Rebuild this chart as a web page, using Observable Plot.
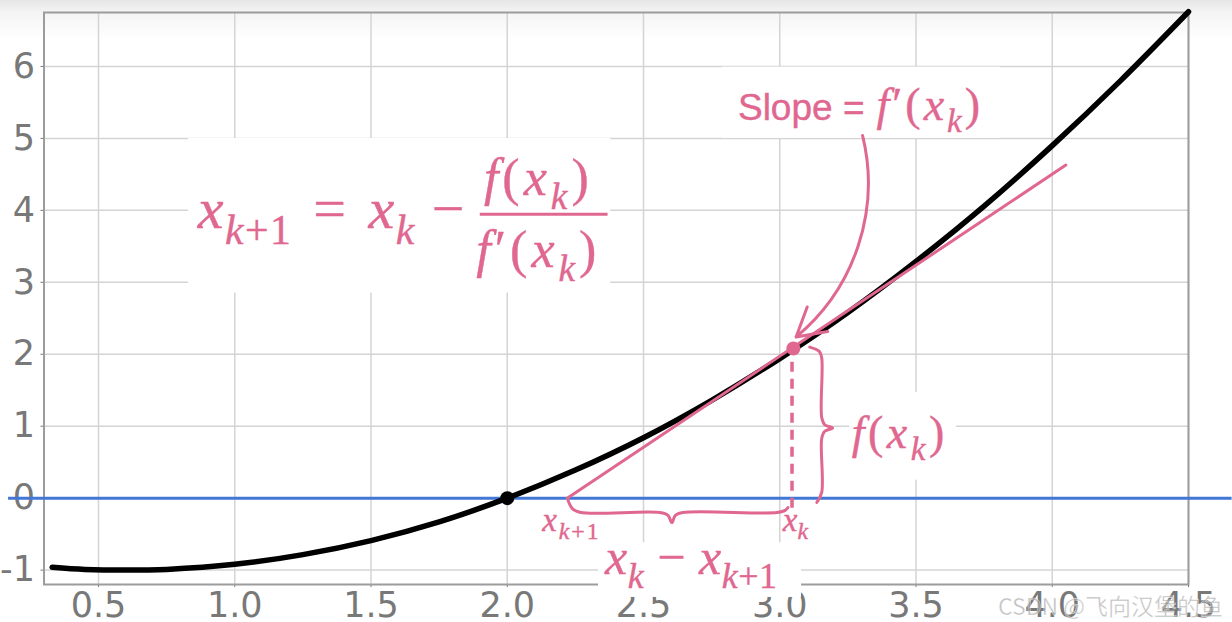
<!DOCTYPE html>
<html>
<head>
<meta charset="utf-8">
<script src="https://cdn.jsdelivr.net/npm/d3@7"></script>
<script src="https://cdn.jsdelivr.net/npm/@observablehq/plot@0.6"></script>
<style>
  html, body { margin: 0; padding: 0; }
  body { width: 1232px; height: 622px; overflow: hidden; position: relative;
         background: linear-gradient(to bottom, #e6e6e6 0px, #f4f4f4 12px, #ffffff 40px); }
  #chart svg { display: block; }
  #wm { position: absolute; left: 998px; top: 588px; font-family: "Noto Sans CJK SC", "Noto Sans", sans-serif;
        font-size: 23px; color: rgba(150,150,150,0.6); white-space: nowrap;
        -webkit-text-stroke: 0.6px rgba(255,255,255,0.7); }
</style>
</head>
<body>
<div id="chart"></div>
<div id="wm">CSDN @飞向汉堡的鱼</div>
<script>
// ---- axes ----
const xTicks = [0.5, 1.0, 1.5, 2.0, 2.5, 3.0, 3.5, 4.0, 4.5];
const xTickLabels = ["0.5", "1.0", "1.5", "2.0", "2.5", "3.0", "3.5", "4.0", "4.5"];
const yTicks = [-1, 0, 1, 2, 3, 4, 5, 6];
const yTickLabels = ["-1", "0", "1", "2", "3", "4", "5", "6"];

// ---- function curve f(x) ----
const curveX = [0.33, 0.45, 0.6, 0.75, 1.0, 1.25, 1.5, 1.75, 2.0, 2.25, 2.5, 2.75, 3.0, 3.25, 3.5, 3.75, 4.0, 4.25, 4.5];
const curveY = [-0.96, -0.99, -1.0, -0.99, -0.92, -0.785, -0.59, -0.33, 0.0, 0.39, 0.84, 1.36, 1.94, 2.58, 3.29, 4.06, 4.90, 5.80, 6.76];

// ---- tangent at x_k ----
const tangentX = [2.22, 4.05];
const tangentY = [0, 4.63];

// ---- zero line ----
const zeroLineX = [0.17, 4.66];
const zeroLineY = [0];

// ---- points ----
const rootX = [2.0], rootY = [0];
const xkX = [3.05], xkY = [2.08];

// ---- dashed drop line ----
const dashX = [3.045];
const dashY = [-0.14, 2.03];

// ---- braces ----
const fBraceX = [3.110, 3.145, 3.154, 3.154, 3.165, 3.194, 3.165, 3.154, 3.154, 3.136];
const fBraceY = [2.10, 2.04, 1.95, 1.12, 1.02, 0.976, 0.93, 0.83, 0.08, -0.06];
const diffBraceX = [2.223, 2.24, 2.27, 2.56, 2.59, 2.604, 2.617, 2.645, 2.99, 3.02, 3.03];
const diffBraceY = [-0.03, -0.15, -0.20, -0.20, -0.24, -0.34, -0.24, -0.20, -0.20, -0.17, -0.13];

// ---- arrow ----
const arrowFrom = [3.304, 5.04];
const arrowTo = [3.06, 2.24];

// ---- fraction bar ----
const fracBarX = [1.901, 2.370];
const fracBarY = [3.945];

// ---- text annotations ----
const labelText = ["$x_{k+1}\u2004=\u2004x_k −", "$f(x_k)", "$f′(x_k)", "Slope =", "$f′(x_k)", "$f(x_k)", "$x_{k+1}", "$x_k", "$x_k − x_{k+1}"];
const labelX = [0.864, 2.114, 2.114, 3.311, 3.355, 3.264, 2.128, 3.011, 2.359];
const labelY = [3.75, 4.21, 3.217, 5.26, 5.26, 0.70, -0.45, -0.45, -1.055];
const labelSize = [58, 52, 52, 37, 46, 46, 33, 33, 50];
const labelSpacing = [1.5, 4, 4, 0, 3, 3.5, 2, 0, 0.5];
const labelAnchor = ["start", "middle", "middle", "end", "start", "start", "start", "start", "start"];

// ---- white backgrounds behind annotations ----
const boxX1 = [0.83, 2.79, 3.257, 2.335];
const boxX2 = [2.38, 3.81, 3.649, 3.08];
const boxY1 = [2.85, 5.0, 0.25, -1.38];
const boxY2 = [5.0, 5.99, 1.47, -0.62];

const pink = "#e0678f";
const blue = "#4277d6";

const curve = curveX.map((x, i) => ({x, y: curveY[i]}));
const tangent = tangentX.map((x, i) => ({x, y: tangentY[i]}));
const fBrace = fBraceX.map((x, i) => ({x, y: fBraceY[i]}));
const diffBrace = diffBraceX.map((x, i) => ({x, y: diffBraceY[i]}));
const boxes = boxX1.map((x1, i) => ({x1, x2: boxX2[i], y1: boxY1[i], y2: boxY2[i]}));
const labels = labelText.map((t, i) => ({t, x: labelX[i], y: labelY[i], size: labelSize[i], ls: labelSpacing[i], anchor: labelAnchor[i]}));

const plot = Plot.plot({
  width: 1232,
  height: 622,
  marginLeft: 43.5,
  marginRight: 44,
  marginTop: 12,
  marginBottom: 38,
  x: {domain: [0.3, 4.5]},
  y: {domain: [-1.2, 6.75]},
  style: {background: "transparent", overflow: "visible"},
  marks: [
    Plot.gridX(xTicks, {stroke: "#d4d4d4", strokeOpacity: 1, strokeWidth: 1.5}),
    Plot.gridY(yTicks, {stroke: "#d4d4d4", strokeOpacity: 1, strokeWidth: 1.5}),
    Plot.axisX(xTicks, {tickFormat: d => xTickLabels[xTicks.indexOf(d)], tickSize: 3, tickPadding: 5, fontSize: 35, fontFamily: "DejaVu Sans", color: "#787878", label: null}),
    Plot.axisY(yTicks, {tickFormat: d => yTickLabels[yTicks.indexOf(d)], tickSize: 3, tickPadding: 6, fontSize: 35, fontFamily: "DejaVu Sans", color: "#787878", label: null}),
    Plot.frame({stroke: "#9c9c9c", strokeWidth: 2}),
    Plot.rect(boxes, {x1: "x1", x2: "x2", y1: "y1", y2: "y2", fill: "white"}),
    Plot.ruleY(zeroLineY, {x1: zeroLineX[0], x2: zeroLineX[1], stroke: blue, strokeWidth: 3}),
    Plot.line(curve, {x: "x", y: "y", curve: "catmull-rom", stroke: "black", strokeWidth: 5.5}),
    Plot.line(tangent, {x: "x", y: "y", stroke: pink, strokeWidth: 3}),
    Plot.ruleX(dashX, {y1: dashY[0], y2: dashY[1], stroke: pink, strokeWidth: 3.5, strokeDasharray: "10,7"}),
    Plot.line(fBrace, {x: "x", y: "y", curve: "catmull-rom", stroke: pink, strokeWidth: 3}),
    Plot.line(diffBrace, {x: "x", y: "y", curve: "catmull-rom", stroke: pink, strokeWidth: 3}),
    Plot.ruleY(fracBarY, {x1: fracBarX[0], x2: fracBarX[1], stroke: pink, strokeWidth: 3}),
    Plot.arrow([{x1: arrowFrom[0], y1: arrowFrom[1], x2: arrowTo[0], y2: arrowTo[1]}],
      {x1: "x1", y1: "y1", x2: "x2", y2: "y2", bend: 32, stroke: pink, strokeWidth: 3, headLength: 16}),
    Plot.dot(rootX.map((x, i) => ({x, y: rootY[i]})), {x: "x", y: "y", r: 7, fill: "black"}),
    Plot.dot(xkX.map((x, i) => ({x, y: xkY[i]})), {x: "x", y: "y", r: 7, fill: pink}),
    ...labels.map(l => Plot.text([l], {
      x: "x", y: "y", text: "t", fontSize: l.size, textAnchor: l.anchor, lineAnchor: "bottom",
      fill: pink, stroke: pink, strokeWidth: 0.4, fontFamily: l.t.startsWith("$") ? "Liberation Serif" : "Liberation Sans",
      ariaLabel: d => "ls" + d.ls
    }))
  ]
});

document.getElementById("chart").appendChild(plot);

// ---- typeset math labels (italic letters, subscripts) ----
function parseMath(s) {
  const out = [];
  let buf = "", i = 0;
  while (i < s.length) {
    const c = s[i];
    if (c === "_") {
      if (buf) { out.push({text: buf, sub: false}); buf = ""; }
      i++;
      let sub;
      if (s[i] === "{") { const j = s.indexOf("}", i); sub = s.slice(i + 1, j); i = j + 1; }
      else { sub = s[i]; i++; }
      out.push({text: sub, sub: true});
    } else { buf += c; i++; }
  }
  if (buf) out.push({text: buf, sub: false});
  return out;
}
const NS = "http://www.w3.org/2000/svg";
plot.querySelectorAll("text").forEach(t => {
  const s = t.textContent;
  if (!s.startsWith("$")) return;
  const fs = parseFloat(getComputedStyle(t).fontSize);
  const lab = t.getAttribute("aria-label") || "";
  const ls = lab.startsWith("ls") ? parseFloat(lab.slice(2)) : 0;
  while (t.firstChild) t.removeChild(t.firstChild);
  t.style.whiteSpace = "pre";
  t.setAttribute("letter-spacing", ls);
  let shift = 0;
  for (const tok of parseMath(s.slice(1))) {
    const runs = tok.text.match(/[A-Za-z]+|[^A-Za-z]+/g) || [];
    const target = tok.sub ? fs * 0.27 : 0;
    runs.forEach((r, k) => {
      const ts = document.createElementNS(NS, "tspan");
      ts.textContent = r;
      if (/[A-Za-z]/.test(r)) ts.setAttribute("font-style", "italic");
      if (tok.sub) ts.setAttribute("font-size", (fs * 0.72).toFixed(1));
      if (k === 0 && target !== shift) { ts.setAttribute("dy", (target - shift).toFixed(1)); shift = target; }
      t.appendChild(ts);
    });
  }
});
</script>
</body>
</html>
